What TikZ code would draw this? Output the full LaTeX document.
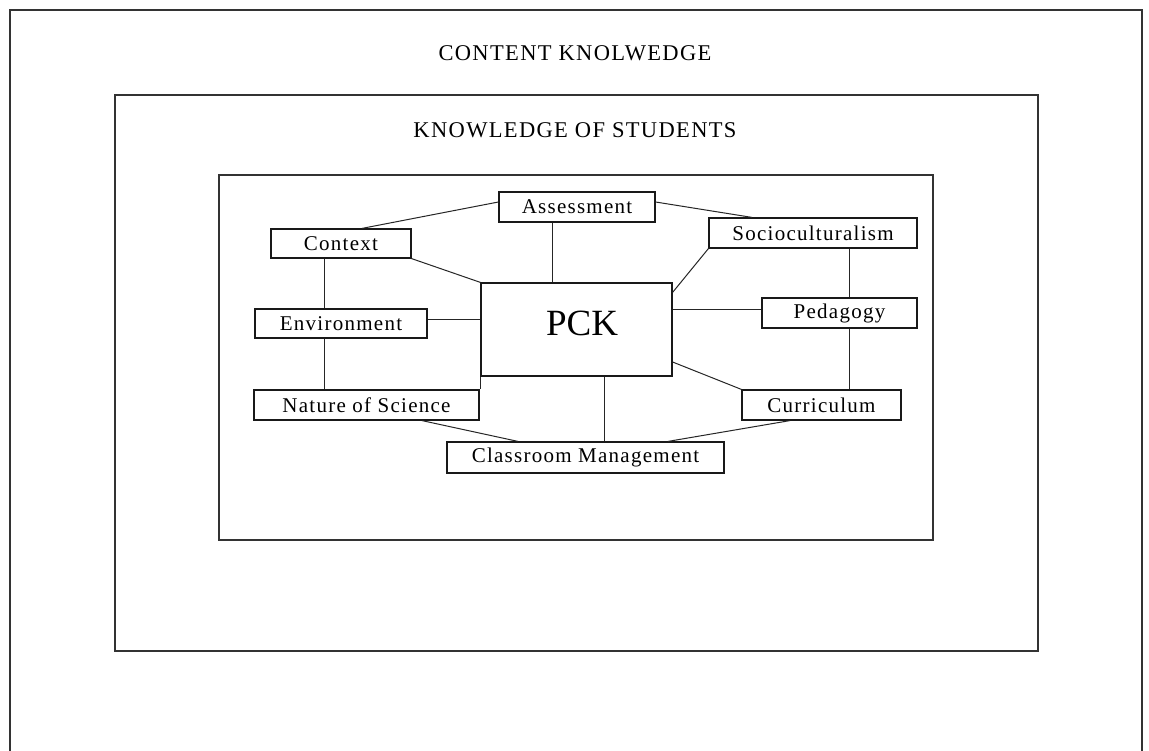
\documentclass[tikz,border=0pt]{standalone}
\usepackage{fontspec}
\setmainfont{Liberation Serif}[LetterSpace=6]
\newfontfamily\pckfont{Liberation Serif}
\usetikzlibrary{calc}
\begin{document}
\begin{tikzpicture}[x=1pt,y=-1pt,
  frame/.style={draw=black!80,line width=2pt},
  itembox/.style={draw=black!90,line width=1.2pt,rectangle,inner sep=0pt,
    font=\fontsize{21}{24}\selectfont},
  link/.style={draw=black!85,line width=1pt},
  heading/.style={font=\fontsize{22.5}{25}\selectfont,inner sep=0pt}]
\useasboundingbox (0,0) rectangle (1149,751);
\fill[white] (0,0) rectangle (1149,751);

% nested frames
\draw[frame] (9.5,751) -- (9.5,10) -- (1142,10) -- (1142,751);
\draw[frame] (114.5,95) rectangle (1037.5,650.5);
\draw[frame] (219,175) rectangle (933,539.5);

% frame headings
\node[heading] (contentk) at (575,53) {CONTENT KNOLWEDGE};
\node[heading] (studentk) at (575,130) {KNOWLEDGE OF STUDENTS};

% central node
\node[itembox,minimum width=191pt,minimum height=93pt] (pck) at (576.5,329.5) {};
\node[font=\pckfont\fontsize{37}{40}\selectfont,inner sep=0pt] (pcktext) at (582,323) {PCK};

% surrounding nodes
\node[itembox,minimum width=156pt,minimum height=30pt] (assess) at (577,207) {Assessment};
\node[itembox,minimum width=208pt,minimum height=30pt] (socio) at (813,233) {Socioculturalism};
\node[itembox,minimum width=155pt,minimum height=30pt] (peda) at (839.5,313) {Pedagogy};
\node[itembox,minimum width=159pt,minimum height=30pt] (curr) at (821.5,405) {Curriculum};
\node[itembox,minimum width=277pt,minimum height=31pt] (classm) at (585.5,457.5) {Classroom Management};
\node[itembox,minimum width=140pt,minimum height=29pt] (context) at (341,243.5) {Context};
\node[itembox,minimum width=172pt,minimum height=29pt] (env) at (341,323.5) {Environment};
\node[itembox,minimum width=225pt,minimum height=30pt] (nos) at (366.5,405) {Nature of Science};

% outer ring
\draw[link] ([xshift=21pt]context.north) -- ([yshift=5pt]assess.west);
\draw[link] ([yshift=5pt]assess.east) -- ([xshift=-61pt]socio.north);
\draw[link] ([xshift=36pt]socio.south) -- ([xshift=36pt]socio.south |- peda.north);
\draw[link] ([xshift=9.5pt]peda.south) -- ([xshift=9.5pt]peda.south |- curr.north);
\draw[link] ([xshift=-31.5pt]curr.south) -- ([xshift=82.5pt]classm.north);
\draw[link] ([xshift=55.5pt]nos.south) -- ([xshift=-67.5pt]classm.north);
\draw[link] ([xshift=-17pt]context.south) -- ([xshift=-17pt]context.south |- env.north);
\draw[link] ([xshift=-17pt]env.south) -- ([xshift=-17pt]env.south |- nos.north);

% spokes to PCK
\draw[link] ([xshift=-25pt]assess.south) -- ([xshift=-25pt]assess.south |- pck.north);
\draw[link] (socio.south west) -- ([yshift=-10pt]pck.north east);
\draw[link] ([yshift=20pt]pck.east) -- ([yshift=20pt]pck.east -| peda.west);
\draw[link] ([yshift=-32.5pt]pck.east) -- (curr.north west);
\draw[link] ([xshift=27.5pt]pck.south) -- ([xshift=27.5pt]pck.south |- classm.north);
\draw[link] (context.south east) -- (pck.north west);
\draw[link] ([yshift=3.5pt]env.east) -- ([yshift=3.5pt]env.east -| pck.west);
\draw[link] (pck.south west) -- (pck.south west |- nos.north);
\end{tikzpicture}
\end{document}
